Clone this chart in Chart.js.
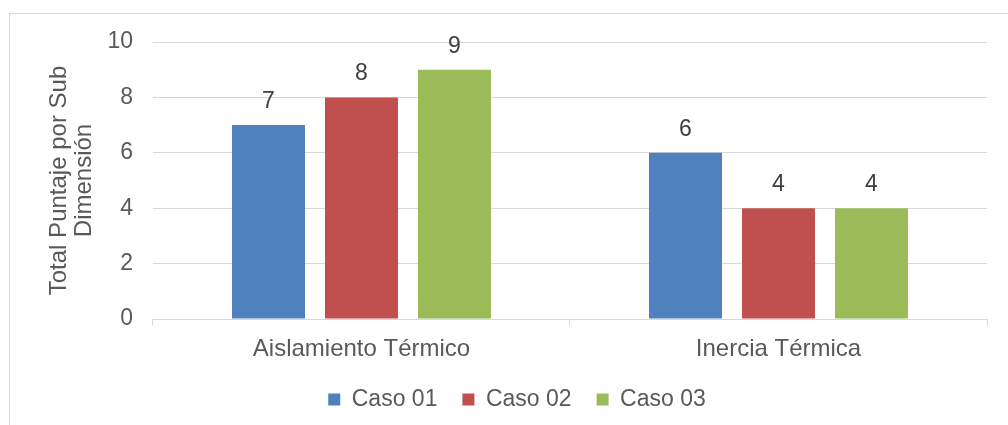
<!DOCTYPE html>
<html>
<head>
<meta charset="utf-8">
<script src="https://cdn.jsdelivr.net/npm/chart.js@4"></script>
<style>
  html, body { margin: 0; padding: 0; background: #fff; }
  #wrap { position: relative; width: 1008px; height: 425px; }
  #frame { position: absolute; left: 9px; top: 13px; right: -2px; bottom: -2px; border: 1px solid #d9d9d9; }
  canvas { position: absolute; left: 0; top: 0; }
</style>
</head>
<body>
<div id="wrap">
  <div id="frame"></div>
  <canvas id="myChart" width="1008" height="425"></canvas>
</div>
<script>
const categories = ["Aislamiento Térmico", "Inercia Térmica"];
const caso01 = [7, 6];
const caso02 = [8, 4];
const caso03 = [9, 4];
const yTicks = [0, 2, 4, 6, 8, 10];

// numbers above each bar
const valueLabels = {
  id: "valueLabels",
  afterDatasetsDraw(chart) {
    const ctx = chart.ctx;
    ctx.save();
    ctx.font = "23px 'Liberation Sans', Arial, sans-serif";
    ctx.fillStyle = "#404040";
    ctx.textAlign = "center";
    ctx.textBaseline = "bottom";
    chart.data.datasets.forEach((ds, i) => {
      chart.getDatasetMeta(i).data.forEach((bar, j) => {
        ctx.fillText(ds.data[j], bar.x, bar.y - 12);
      });
    });
    ctx.restore();
  }
};

const data = {
  labels: categories,
  datasets: [
    { label: "Caso 01", data: caso01, backgroundColor: "#4F81BD" },
    { label: "Caso 02", data: caso02, backgroundColor: "#C0504D" },
    { label: "Caso 03", data: caso03, backgroundColor: "#9BBB59" },
  ],
};

const options = {
  responsive: false,
  animation: false,
  barPercentage: 0.785,
  categoryPercentage: 0.669,
  layout: { padding: { left: 47, right: 21, top: 42, bottom: 4 } },
  plugins: {
    legend: {
      position: "bottom",
      labels: {
        boxWidth: 12,
        boxHeight: 12,
        padding: 25,
        color: "#595959",
        font: { size: 23 },
      },
    },
    tooltip: { enabled: false },
  },
  scales: {
    x: {
      afterFit: (axis) => { axis.height = 44; },
      grid: {
        offset: true,
        drawOnChartArea: false,
        drawTicks: true,
        tickLength: 7,
        color: "#d9d9d9",
      },
      border: { color: "#d9d9d9" },
      ticks: { color: "#595959", font: { size: 24 }, padding: 9 },
    },
    y: {
      min: 0,
      max: 10,
      afterBuildTicks: (axis) => { axis.ticks = yTicks.map((v) => ({ value: v })); },
      grid: { color: "#d9d9d9", drawTicks: false },
      border: { display: false },
      ticks: { color: "#595959", font: { size: 23 }, padding: 20 },
      title: {
        display: true,
        text: ["Total Puntaje por Sub", "Dimensión"],
        color: "#595959",
        font: { size: 24, lineHeight: 1.05 },
        padding: { top: 0, bottom: -10 },
      },
    },
  },
};

Chart.defaults.font.family = "'Liberation Sans', Arial, sans-serif";

const myChart = new Chart(document.getElementById("myChart"), {
  type: "bar",
  data: data,
  options,
  plugins: [valueLabels],
});
</script>
</body>
</html>
